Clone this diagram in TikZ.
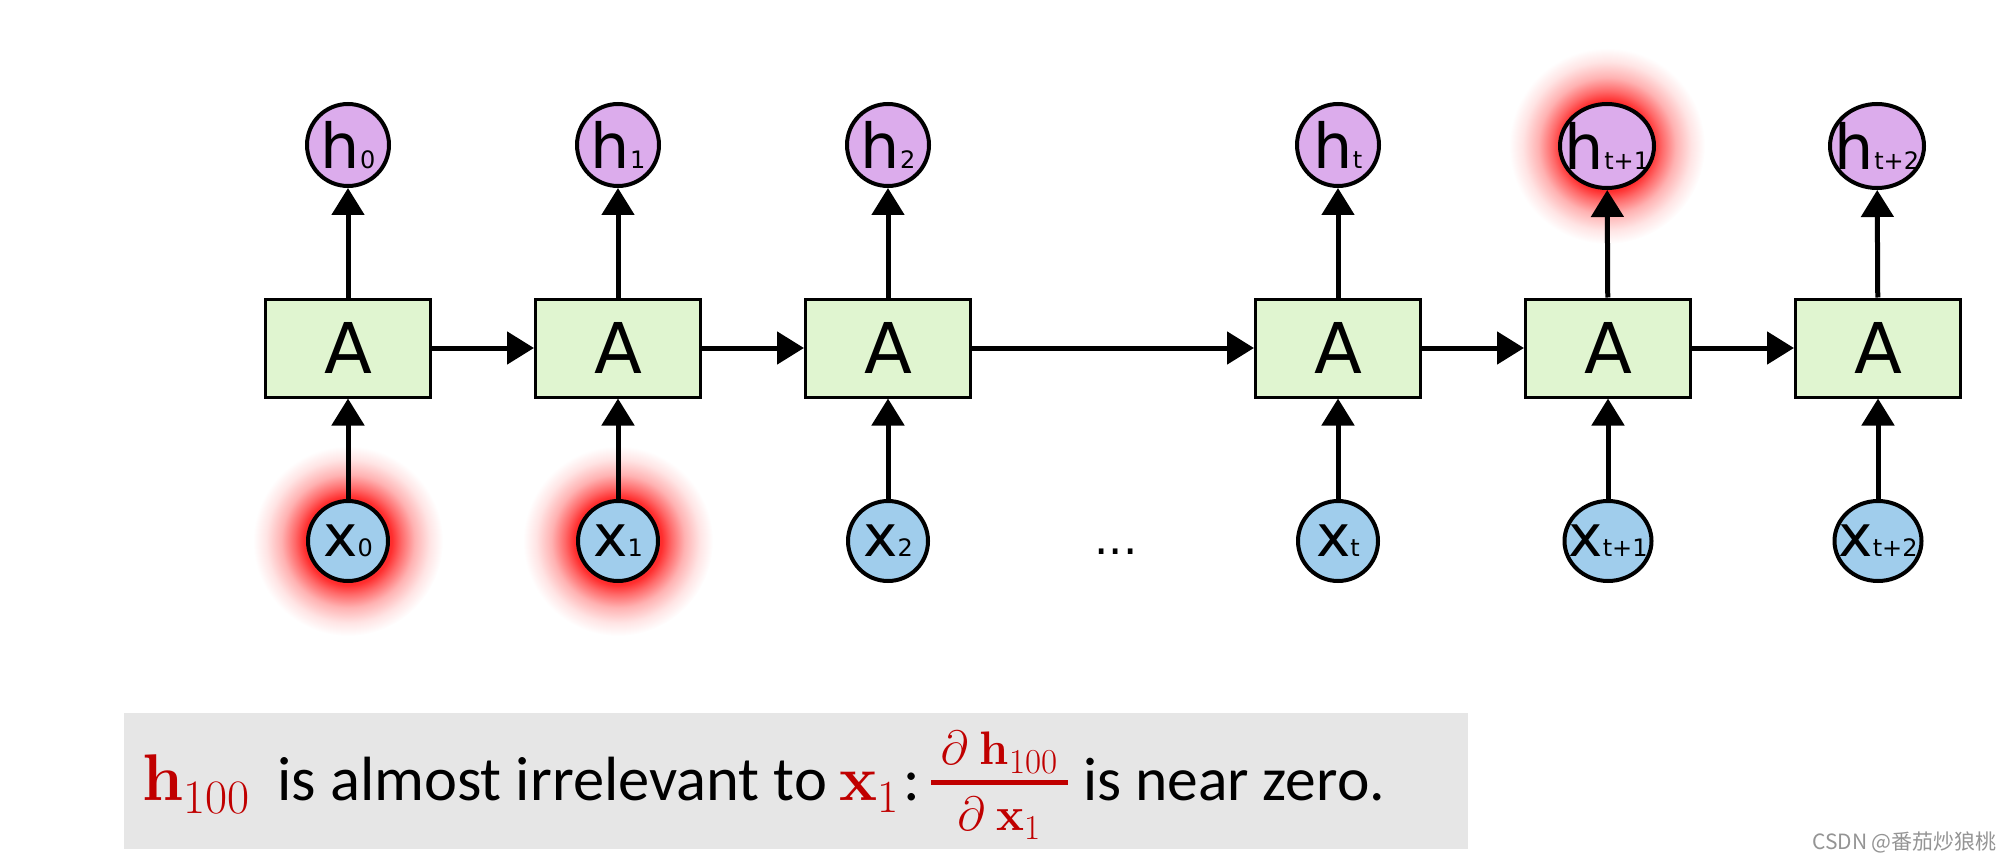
\RequirePackage{fix-cm}
\documentclass[tikz,border=0pt]{standalone}
\usepackage{fontspec}
\usetikzlibrary{arrows.meta,shapes.geometric,backgrounds}
\newfontfamily\dejavu{DejaVu Sans}
\newfontfamily\calibri{Carlito}
\newfontfamily\cjkfont{Noto Sans CJK SC}
\definecolor{boxgreen}{RGB}{224,245,208}
\definecolor{hpurple}{RGB}{220,172,236}
\definecolor{xblue}{RGB}{160,205,236}
\definecolor{fracred}{RGB}{192,0,0}
\definecolor{boxgray}{RGB}{230,230,230}
\definecolor{glowred}{RGB}{255,45,45}
\definecolor{glowA}{RGB}{255,105,105}
\definecolor{glowB}{RGB}{255,178,178}
\definecolor{glowC}{RGB}{255,228,228}
\pgfdeclareradialshading{glowshade}{\pgfpoint{0bp}{0bp}}{%
  color(0bp)=(glowred); color(11.5bp)=(glowred); color(14bp)=(glowA);
  color(17.5bp)=(glowB); color(21.5bp)=(glowC); color(25bp)=(white); color(50bp)=(white)}
\newcommand\hlab[1]{{\fontsize{62}{62}\selectfont h}{\fontsize{24}{24}\selectfont #1}}
\newcommand\xlab[1]{{\fontsize{58}{58}\selectfont x}{\fontsize{24}{24}\selectfont #1}}
\newcommand\bsym[5]{{\fontsize{#2}{#2}\selectfont\bfseries #1}\raisebox{-#5pt}{\fontsize{#4}{#4}\selectfont #3}}
\tikzset{
  abox/.style={draw, line width=3pt, fill=boxgreen, minimum width=165pt,
    minimum height=98pt, inner sep=0pt, font=\dejavu\fontsize{70}{70}\selectfont},
  hnode/.style={draw, line width=4pt, fill=hpurple, circle, minimum size=82pt, inner sep=0pt},
  hell/.style={draw, line width=4pt, fill=hpurple, ellipse, minimum width=94pt,
    minimum height=84pt, inner sep=0pt},
  xnode/.style={draw, line width=4pt, fill=xblue, circle, minimum size=80pt, inner sep=0pt},
  xell/.style={draw, line width=4pt, fill=xblue, ellipse, minimum width=87pt,
    minimum height=80pt, inner sep=0pt},
  lab/.style={inner sep=0pt, font=\dejavu},
  flow/.style={line width=5pt, -{Triangle[length=27pt,width=32pt]}},
  txt/.style={inner sep=0pt, anchor=base west},
  glow/.style={shading=glowshade},
}
\begin{document}
\begin{tikzpicture}[x=1pt,y=-1pt]
\useasboundingbox (0,0) rectangle (2008,861);
% boxes
\node[abox] (a0) at (348,348) {A};
\node[abox] (a1) at (618,348) {A};
\node[abox] (a2) at (888,348) {A};
\node[abox] (a3) at (1338,348) {A};
\node[abox] (a4) at (1608,348) {A};
\node[abox] (a5) at (1878,348) {A};
% outputs
\node[hnode, label={[lab]center:\hlab{0}}] (h0) at (348,145) {};
\node[hnode, label={[lab]center:\hlab{1}}] (h1) at (618,145) {};
\node[hnode, label={[lab]center:\hlab{2}}] (h2) at (888,145) {};
\node[hnode, label={[lab]center:\hlab{t}}] (h3) at (1338,145) {};
\node[hell, label={[lab]center:\hlab{t+1}}] (h4) at (1607,146) {};
\node[hell, label={[lab]center:\hlab{t+2}}] (h5) at (1877,146) {};
% inputs
\node[xnode, label={[lab]center:\xlab{0}}] (x0) at (348,541) {};
\node[xnode, label={[lab]center:\xlab{1}}] (x1) at (618,541) {};
\node[xnode, label={[lab]center:\xlab{2}}] (x2) at (888,541) {};
\node[xnode, label={[lab]center:\xlab{t}}] (x3) at (1338,541) {};
\node[xell, label={[lab]center:\xlab{t+1}}] (x4) at (1608,541) {};
\node[xell, label={[lab]center:\xlab{t+2}}] (x5) at (1878,541) {};
\node[lab, anchor=base] (dots) at (1116,554) {\fontsize{45}{45}\selectfont ...};
% glows
\begin{pgfonlayer}{background}
\shade[glow] (x0.center) circle[radius=95];
\shade[glow] (x1.center) circle[radius=95];
\shade[glow] (h4.center) circle[radius=98];
\end{pgfonlayer}
% connectors
\foreach \i in {0,...,5} {
  \draw[flow] (a\i) -- (h\i);
  \draw[flow] (x\i) -- (a\i);
}
\draw[flow] (a0) -- (a1);
\draw[flow] (a1) -- (a2);
\draw[flow] (a2) -- (a3);
\draw[flow] (a3) -- (a4);
\draw[flow] (a4) -- (a5);
% caption banner
\node[fill=boxgray, minimum width=1344pt, minimum height=136pt, inner sep=0pt,
  anchor=north west] (banner) at (124,713) {};
\node[txt, text=fracred] (t1) at (142,800) {\bsym{h}{66}{100}{48}{13}};
\node[txt] (t2) at (277,800) {\calibri\fontsize{62.5}{62.5}\selectfont is almost irrelevant to};
\node[txt, text=fracred] (t3) at (839,800) {\bsym{x}{64}{1}{46}{12}};
\node[txt] (t4) at (903,800) {\calibri\fontsize{62}{62}\selectfont :};
\node[inner sep=0pt, anchor=base, text=fracred] (num) at (999,764)
  {\fontsize{48}{48}\selectfont$\partial$\hspace{12pt}\bsym{h}{47}{100}{35}{9}};
\node[inner sep=0pt, anchor=base, text=fracred] (den) at (999,830)
  {\fontsize{48}{48}\selectfont$\partial$\hspace{12pt}\bsym{x}{47}{1}{35}{9}};
\fill[fracred] (931,779.5) rectangle (1068,784.5);
\node[txt] (t5) at (1083,800) {\calibri\fontsize{61.5}{61.5}\selectfont is near zero.};
% watermark
\node[inner sep=0pt, anchor=west, text=black!42] (wm) at (1812,842)
  {\cjkfont\fontsize{21}{21}\selectfont CSDN @番茄炒狼桃};
\end{tikzpicture}
\end{document}
